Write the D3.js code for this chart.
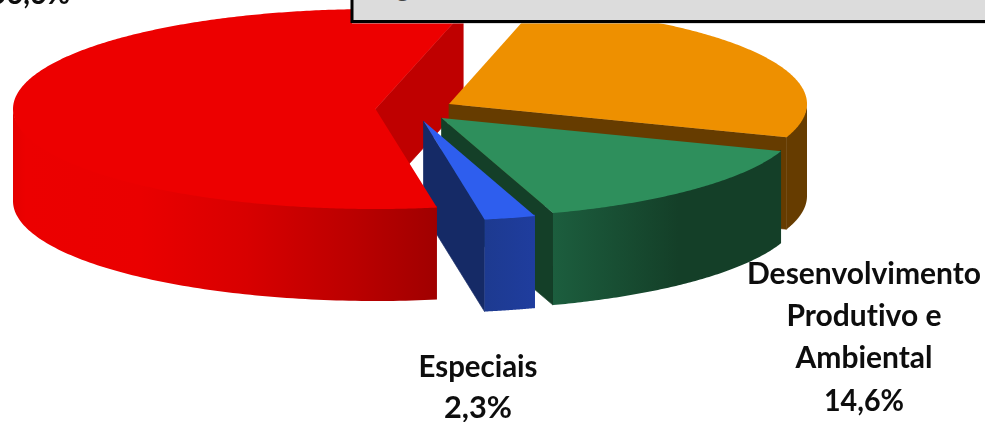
<!DOCTYPE html>
<html><head><meta charset="utf-8">
<style>html,body{margin:0;padding:0;background:#fff;overflow:hidden}svg{display:block}
text{font-family:Lato,"Open Sans",sans-serif;font-weight:700;fill:#0a0a0a;text-anchor:middle;font-variant-ligatures:none}</style>
<script src="https://cdn.jsdelivr.net/npm/d3@7/dist/d3.min.js"></script>
</head><body><script>
// Data (pie order: clockwise from the start angle)
const categories = ["Infraestrutura", "Desenvolvimento Produtivo e Ambiental", "Especiais", "Social"];
const shares = [26.5, 14.6, 2.3, 56.6];
const shareLabels = ["", "14,6%", "2,3%", "56,6%"];
const nameLines = [[], ["Desenvolvimento", "Produtivo e", "Ambiental"], ["Especiais"], []];

const W = 985, H = 422;
const svg = d3.select("body").append("svg").attr("width", W).attr("height", H);
const defs = svg.append("defs");
defs.append("filter").attr("id","soft").append("feGaussianBlur").attr("stdDeviation",0.5);

const rad = Math.PI/180;
const arcs = d3.pie().sort(null).value(d=>d).startAngle(14*rad).endAngle(374*rad)(shares);

const depth = 92, ry = 100;
const layout = [
 {cx:449, cy:104, rx:358, top:"#ee9000", cut:"#663c00", stops:[[0,"#663c00"],[1,"#663c00"]]},
 {cx:441.5, cy:118, rx:360, top:"#2e8f5c", cut:"#143f28", stops:[[0,"#1c5e3e"],[0.55,"#143f28"],[1,"#143f28"]]},
 {cx:423.5, cy:121, rx:360, top:"#2e5eee", cut:"#152a66", stops:[[0,"#1d3a90"],[1,"#1f3d9e"]]},
 {cx:375.5, cy:109, rx:362.5, top:"#ed0000", cut:"#bf0000", stops:[[0,"#e40000"],[0.03,"#ec0000"],[0.3,"#ea0000"],[0.55,"#d80000"],[0.8,"#bb0000"],[1,"#a00000"]]}
];
const line = d3.line();
const rim = (L,a,dy=0)=>[L.cx+L.rx*Math.sin(a), L.cy-ry*Math.cos(a)+dy];

function wallPath(L,a0,a1){
  const lo=Math.max(a0,90*rad), hi=Math.min(a1,270*rad);
  if(hi<=lo) return null;
  const as=d3.range(0,101).map(i=>lo+(hi-lo)*i/100);
  // upper edge tucked under the top face so no seam shows
  return line(as.map(a=>rim(L,a,-1.5)).concat(as.slice().reverse().map(a=>rim(L,a,depth))))+"Z";
}
function cutPath(L,a){
  const p=rim(L,a);
  return line([[L.cx,L.cy],p,[p[0],p[1]+depth],[L.cx,L.cy+depth]])+"Z";
}
function topPath(L,a0,a1){
  const n=Math.ceil((a1-a0)/rad)*2;
  const as=d3.range(0,n+1).map(i=>a0+(a1-a0)*i/n);
  return line([[L.cx,L.cy]].concat(as.map(a=>rim(L,a))))+"Z";
}
function visibleCuts(a0,a1){
  const c=[];
  if(Math.cos(a0-90*rad)<0) c.push(a0);
  if(Math.cos(a1+90*rad)<0) c.push(a1);
  return c;
}
function drawCuts(g,d,i){
  const L=layout[i];
  visibleCuts(d.startAngle,d.endAngle).forEach(a=>g.append("path").attr("d",cutPath(L,a))
    .attr("fill",L.cut).attr("stroke",L.cut).attr("stroke-width",0.7));
}
function drawBody(g,d,i){
  const L=layout[i];
  const lo=Math.max(d.startAngle,90*rad), hi=Math.min(d.endAngle,270*rad);
  const wp=wallPath(L,d.startAngle,d.endAngle);
  if(wp){
    const xs=[rim(L,lo)[0],rim(L,hi)[0]];
    const gr=defs.append("linearGradient").attr("id","wall"+i).attr("gradientUnits","userSpaceOnUse")
      .attr("x1",d3.min(xs)).attr("x2",d3.max(xs)).attr("y1",0).attr("y2",0);
    L.stops.forEach(s=>gr.append("stop").attr("offset",s[0]).attr("stop-color",s[1]));
    g.append("path").attr("d",wp).attr("fill",`url(#wall${i})`);
  }
  g.append("path").attr("d",topPath(L,d.startAngle,d.endAngle)).attr("fill",L.top);
}
const pieG = svg.append("g");
// The large slice's cut face sits behind the others; its rim and top in front of them.
drawCuts(pieG,arcs[3],3);
[0,1,2].forEach(i=>{drawCuts(pieG,arcs[i],i);drawBody(pieG,arcs[i],i);});
drawBody(pieG,arcs[3],3);

// Grey title box, cut by the top of the picture
svg.append("rect").attr("x",352).attr("y",-10).attr("width",W).attr("height",31.5)
  .attr("fill","#dcdcdc").attr("stroke","#000").attr("stroke-width",3);
svg.append("rect").attr("x",352).attr("y",23).attr("width",W).attr("height",1).attr("fill","#bbb").attr("opacity",.5);
svg.append("text").attr("x",403).attr("y",-3).attr("font-size",26).style("fill","#444").text("g");

// Labels
const T = svg.append("g").attr("filter","url(#soft)");
function label(x,y,str,len){
  const t=T.append("text").attr("x",x).attr("y",y).attr("font-size",31).text(str);
  if(len) t.attr("textLength",len).attr("lengthAdjust","spacingAndGlyphs");
}
const desen = [284,326,368].map((y,i)=>[y,nameLines[1][i]]);
[234,155,137].forEach((w,i)=>label(864,desen[i][0],desen[i][1],w));
label(864,411,shareLabels[1],80);
label(478,377,nameLines[2][0],119);
label(478,418,shareLabels[2],68);
label(30,4,shareLabels[3],80);
</script></body></html>
